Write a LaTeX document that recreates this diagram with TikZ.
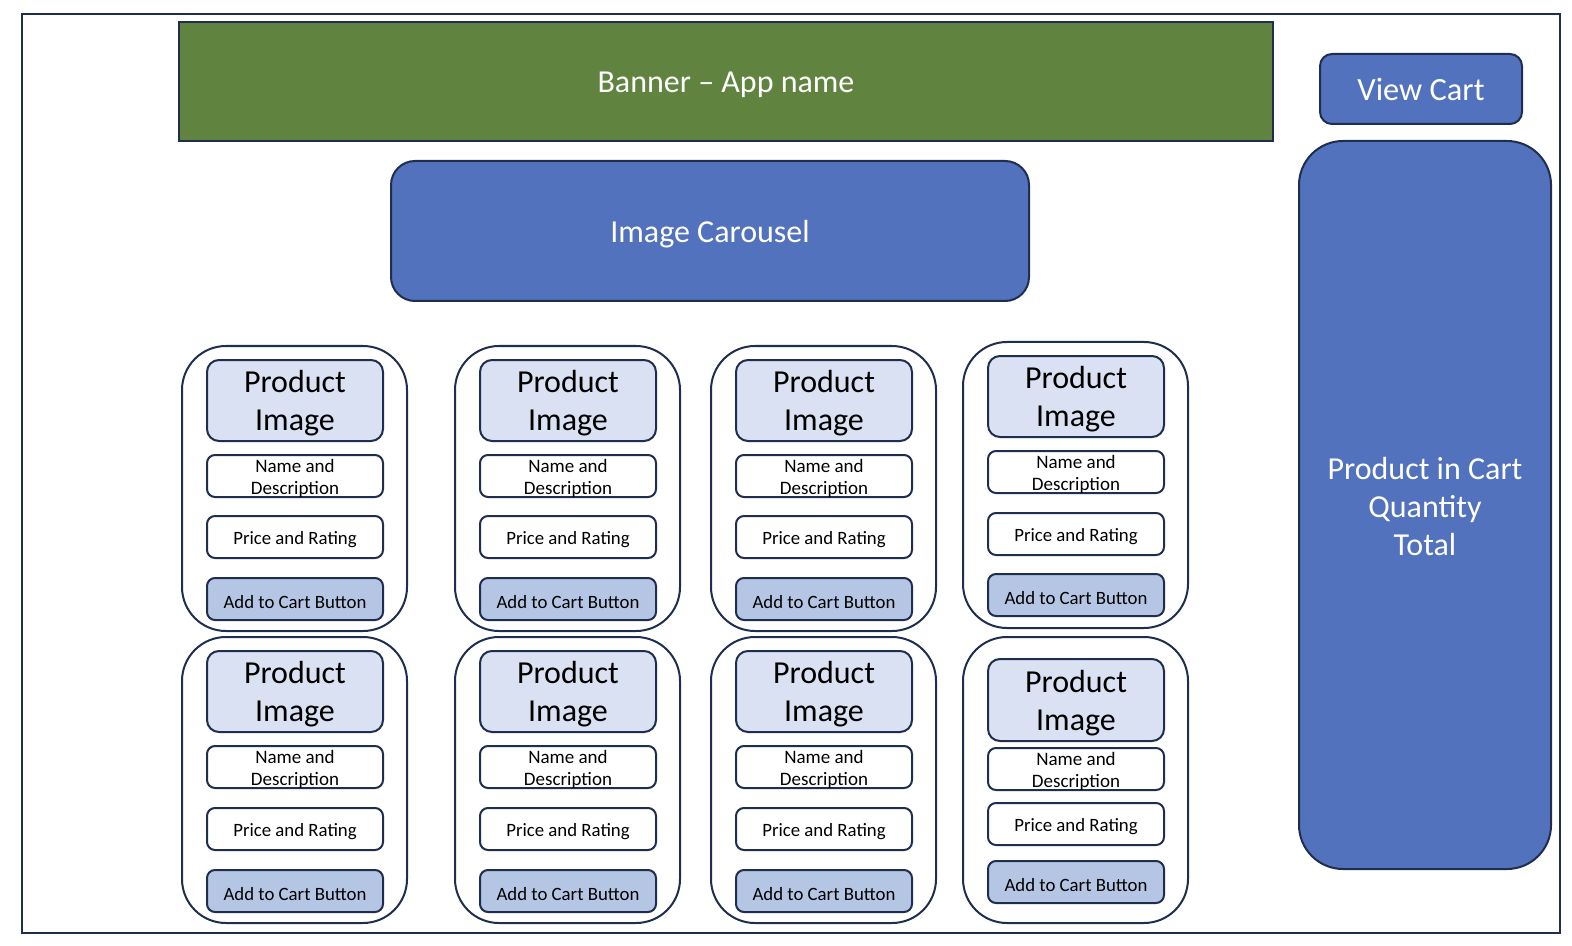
\documentclass[tikz,border=0pt]{standalone}
\usepackage{fontspec}
\setmainfont{Carlito}
\definecolor{edge}{RGB}{31,45,78}
\definecolor{bannergreen}{RGB}{96,131,64}
\definecolor{accentblue}{RGB}{82,114,190}
\definecolor{imgfill}{RGB}{218,225,242}
\definecolor{btnfill}{RGB}{181,198,229}
\tikzset{
  boxbase/.style={draw=edge, line width=1pt, inner sep=0pt, align=center},
  frame/.style={boxbase},
  banner/.style={boxbase, fill=bannergreen, text=white, font=\fontsize{16}{19}\selectfont},
  bluebox/.style={boxbase, fill=accentblue, text=white},
  carousel/.style={bluebox, rounded corners=12pt, font=\fontsize{16}{19}\selectfont},
  viewcart/.style={bluebox, rounded corners=6pt, font=\fontsize{16.2}{19}\selectfont},
  cartpanel/.style={bluebox, rounded corners=22pt, font=\fontsize{16}{19}\selectfont},
  card/.style={boxbase, fill=white, rounded corners=22pt},
  pimg/.style={boxbase, fill=imgfill, rounded corners=6pt, font=\fontsize{16}{19}\selectfont},
  namebox/.style={boxbase, fill=white, rounded corners=4pt, font=\fontsize{9.5}{11}\selectfont},
  pricebox/.style={boxbase, fill=white, rounded corners=4pt, font=\fontsize{9.4}{11}\selectfont},
  btnbox/.style={boxbase, fill=btnfill, rounded corners=4pt, font=\fontsize{9.4}{11}\selectfont},
}
% lower a line of text a little without changing its reported size
\newcommand\dn[2][1.4pt]{\raisebox{-#1}[\height][\depth]{#2}}
% #1 style, #2 name, #3 x1, #4 y1, #5 x2, #6 y2, #7 text
\newcommand\ubox[7]{%
  \node[#1, minimum width={((#5)-(#3))*0.5pt}, minimum height={((#6)-(#4))*0.5pt}]
    (#2) at ({((#3)+(#5))/2},{((#4)+(#6))/2}) {#7};}
% #1 name, #2 x, #3 top, #4 bottom, #5 img top, #6 img bottom, #7 name top, #8 price top, #9 button top
\newcommand\prodcard[9]{%
  \ubox{card}{#1}{#2}{#3}{(#2)+225}{#4}{}
  \ubox{pimg}{#1-img}{(#2)+25}{#5}{(#2)+201}{#6}{\dn{Product}\\\dn{Image}}
  \ubox{namebox}{#1-name}{(#2)+25}{#7}{(#2)+201}{(#7)+42}{\dn[1pt]{Name and}\\\dn[1pt]{Description}}
  \ubox{pricebox}{#1-price}{(#2)+25}{#8}{(#2)+201}{(#8)+42}{\dn{Price and Rating}}
  \ubox{btnbox}{#1-btn}{(#2)+25}{#9}{(#2)+201}{(#9)+42}{\dn{Add to Cart Button}}}
\begin{document}
\begin{tikzpicture}[x=0.5pt,y=-0.5pt]
\useasboundingbox (0,0) rectangle (1572,946);
\ubox{frame}{page}{22}{14}{1560}{933}{}
\ubox{banner}{banner}{179}{22}{1273}{141}{\dn[1.8pt]{Banner – App name}}
\ubox{viewcart}{viewcart}{1320}{54}{1522}{124}{View Cart}
\ubox{cartpanel}{cartpanel}{1299}{141}{1551}{869}{\dn[0.8pt]{Product in Cart}\\\dn[0.8pt]{Quantity}\\\dn[0.8pt]{Total}}
\ubox{carousel}{carousel}{391}{161}{1029}{301}{\dn[1.5pt]{Image Carousel}}
\prodcard{c11}{182}{346}{631}{360}{441}{455}{516}{578}
\prodcard{c12}{455}{346}{631}{360}{441}{455}{516}{578}
\prodcard{c13}{711}{346}{631}{360}{441}{455}{516}{578}
\prodcard{c14}{963}{342}{628}{356}{437}{451}{513}{574}
\prodcard{c21}{182}{637}{923}{651}{732}{746}{808}{870}
\prodcard{c22}{455}{637}{923}{651}{732}{746}{808}{870}
\prodcard{c23}{711}{637}{923}{651}{732}{746}{808}{870}
\prodcard{c24}{963}{637}{923}{659}{741}{748}{803}{861}
\end{tikzpicture}
\end{document}
